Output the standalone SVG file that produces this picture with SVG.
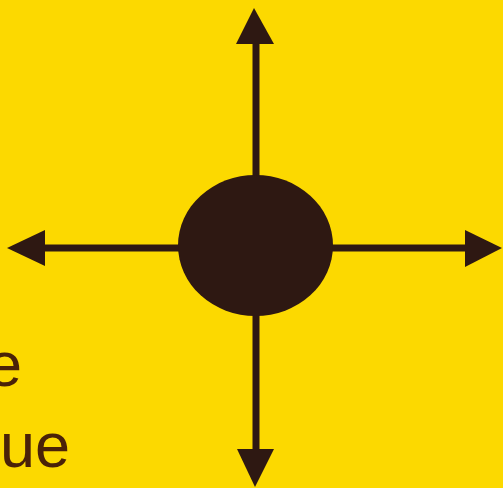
<svg xmlns="http://www.w3.org/2000/svg" width="503" height="488" viewBox="0 0 503 488">
<style>
.ln{stroke:#2e1812;stroke-width:7;fill:none}
.hd{fill:#2e1812}
.lbl{font-family:"Liberation Sans",Arial,sans-serif;font-size:63px;fill:#4a2208}
</style>
<rect width="503" height="488" fill="#fcd900"/>
<g id="connectors">
<line class="ln" x1="256" y1="40" x2="256" y2="452"/>
<line class="ln" x1="42" y1="248" x2="468" y2="248"/>
<polygon class="hd" points="254,8 236,44 274,44"/>
<polygon class="hd" points="7,248 45,230 45,266"/>
<polygon class="hd" points="502,248 465,230 465,267"/>
<polygon class="hd" points="255,487 237,449 274,449"/>
</g>
<g id="center">
<ellipse cx="255.5" cy="245.5" rx="77.5" ry="70.5" fill="#2e1812"/>
</g>
<g id="label">
<text class="lbl" x="22" y="386" text-anchor="end">e</text>
<text class="lbl" x="70" y="467" text-anchor="end">lue</text>
</g>
</svg>
